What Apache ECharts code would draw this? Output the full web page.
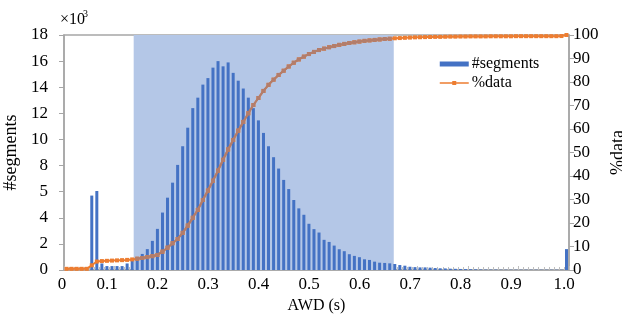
<!DOCTYPE html>
<html>
<head>
<meta charset="utf-8">
<script src="https://cdn.jsdelivr.net/npm/echarts@6/dist/echarts.min.js"></script>
<style>html,body{margin:0;padding:0;background:#fff;}#c{width:622px;height:320px;}</style>
</head>
<body>
<div id="c"></div>
<script>
// #segments per 0.01-wide AWD bin (×10³), bins 0.00–0.01 ... 0.99–1.00
const segments = [
  0, 0, 0, 0, 0, 5.7, 6.05, 0.5, 0.3, 0.3,
  0.3, 0.3, 0.5, 0.77, 1.0, 1.23, 1.6, 2.23, 3.15, 4.4,
  5.54, 6.69, 8.05, 9.48, 10.9, 12.4, 13.2, 14.2, 14.7, 15.5,
  16.0, 15.6, 15.9, 15.1, 14.5, 13.9, 13.2, 12.4, 11.46, 10.5,
  9.48, 8.64, 7.77, 6.9, 6.2, 5.36, 4.72, 4.23, 3.54, 3.13,
  2.87, 2.31, 2.15, 1.87, 1.59, 1.44, 1.21, 1.08, 0.98, 0.82,
  0.77, 0.64, 0.56, 0.54, 0.51, 0.46, 0.38, 0.33, 0.25, 0.22,
  0.2, 0.2, 0.18, 0.15, 0.13, 0.12, 0.1, 0.09, 0.08, 0.07,
  0.06, 0.05, 0.04, 0.03, 0.03, 0.03, 0.02, 0.02, 0.02, 0.02,
  0.02, 0.02, 0.02, 0.02, 0.02, 0.02, 0.02, 0.02, 0.02, 1.6
];
// cumulative %data at each bin
const pctData = [
  0.5, 0.5, 0.5, 0.5, 0.5, 2.0, 3.6, 3.8, 3.9, 4.0,
  4.1, 4.2, 4.3, 4.5, 4.8, 5.1, 5.5, 5.9, 6.4, 7.8,
  9.5, 11.4, 13.2, 15.8, 18.9, 22.2, 25.6, 29.8, 33.8, 38.0,
  42.3, 46.9, 51.3, 55.3, 59.3, 63.0, 66.7, 70.2, 73.2, 76.2,
  78.8, 81.0, 83.0, 84.8, 86.6, 88.2, 89.6, 90.8, 91.9, 92.8,
  93.6, 94.2, 94.8, 95.3, 95.8, 96.2, 96.6, 96.9, 97.2, 97.5,
  97.7, 97.9, 98.1, 98.3, 98.4, 98.6, 98.7, 98.8, 98.9, 99.0,
  99.05, 99.1, 99.15, 99.2, 99.2, 99.25, 99.3, 99.3, 99.35, 99.35,
  99.4, 99.4, 99.4, 99.4, 99.45, 99.45, 99.45, 99.45, 99.45, 99.5,
  99.5, 99.5, 99.5, 99.5, 99.5, 99.5, 99.5, 99.5, 99.55, 100
];
const binStart = 0, binWidth = 0.01;
const binCenters = segments.map((_, i) => +(binStart + (i + 0.5) * binWidth).toFixed(3));
const leftTickLabels = ['0', '2', '4', '5', '8', '10', '12', '14', '16', '18'];
const rightTickLabels = ['0', '10', '20', '30', '40', '50', '60', '70', '80', '90', '100'];
const xTickLabels = ['0', '0.1', '0.2', '0.3', '0.4', '0.5', '0.6', '0.7', '0.8', '0.9', '1.0'];
const highlightRange = [0.138, 0.653];

const FONT = 'Liberation Serif';
const ORANGE = '#ed7d31', BROWN = '#b27d6c';
const chart = echarts.init(document.getElementById('c'), null, {renderer: 'canvas'});
const inRange = x => x >= highlightRange[0] && x <= highlightRange[1];
const barData = binCenters.map((x, i) => [x, segments[i]]);
const lineData = binCenters.map((x, i) => [x, pctData[i]]);
// the part of the same curve that lies inside the shaded range (drawn on top, tinted)
const lineDataShaded = binCenters.map((x, i) => [x, inRange(x) ? pctData[i] : null]);

chart.setOption({
  animation: false,
  color: ['#b4c7e7', '#4472c4', ORANGE, BROWN],
  textStyle: {fontFamily: FONT, color: '#000'},
  grid: {left: 64, right: 53, top: 35, bottom: 50, outerBoundsMode: 'none', containLabel: false,
    show: true, borderColor: '#a6a6a6', borderWidth: 1.5, backgroundColor: 'transparent'},
  legend: {
    orient: 'vertical', left: 434, top: 51, itemWidth: 29, itemHeight: 5, itemGap: 3,
    textStyle: {fontFamily: FONT, fontSize: 16, color: '#000', lineHeight: 16, padding: [0, 0, 0, -2]},
    data: [
      {name: '#segments', icon: 'rect', itemStyle: {color: '#4472c4'}},
      {name: '%data', itemStyle: {color: ORANGE}, lineStyle: {color: ORANGE, width: 1.5}}
    ]
  },
  graphic: [
    {type: 'text', left: 60, top: 12, style: {text: '×10', fontFamily: FONT, fontSize: 16, fill: '#000'}},
    {type: 'text', left: 83, top: 9, style: {text: '3', fontFamily: FONT, fontSize: 10, fill: '#000'}}
  ],
  xAxis: {
    type: 'value', min: 0, max: 1, interval: 0.1,
    name: 'AWD (s)', nameLocation: 'middle', nameGap: 27,
    nameTextStyle: {fontFamily: FONT, fontSize: 16, color: '#000'},
    axisLine: {show: true, lineStyle: {color: '#a6a6a6', width: 1.5}},
    axisTick: {show: true, inside: true, length: 4, lineStyle: {color: '#bfbfbf'}},
    minorTick: {show: true, splitNumber: 10, length: 3, lineStyle: {color: '#bfbfbf'}},
    splitLine: {show: false},
    axisLabel: {
      margin: 6, fontFamily: FONT, fontSize: 17, color: '#000',
      formatter: v => {
        const t = xTickLabels[Math.round(v * 10)];
        if (v === 0) return '{z|' + t + '}';
        if (Math.round(v * 10) === 10) return '{e|' + t + '}';
        return '{n|' + t + '}';
      },
      rich: {
        z: {fontFamily: FONT, fontSize: 17, padding: [0, 4, 0, 0]},
        n: {fontFamily: FONT, fontSize: 17, padding: [0, 15, 0, 0]},
        e: {fontFamily: FONT, fontSize: 17, padding: [0, 10, 0, 0]}
      }
    }
  },
  yAxis: [
    {
      type: 'value', min: 0, max: 18, interval: 2,
      name: '#segments', nameLocation: 'middle', nameGap: 36, nameRotate: 90,
      nameTextStyle: {fontFamily: FONT, fontSize: 18, color: '#000'},
      axisLine: {show: true, lineStyle: {color: '#a6a6a6', width: 1.5}},
      axisTick: {show: true, length: 5, lineStyle: {color: '#a6a6a6'}},
      splitLine: {show: false},
      axisLabel: {margin: 16, fontFamily: FONT, fontSize: 17, color: '#000',
        formatter: v => leftTickLabels[Math.round(v / 2)]}
    },
    {
      type: 'value', min: 0, max: 100, interval: 10, position: 'right',
      name: '%data', nameLocation: 'middle', nameGap: 34, nameRotate: 90,
      nameTextStyle: {fontFamily: FONT, fontSize: 18, color: '#000'},
      axisLine: {show: true, lineStyle: {color: '#a6a6a6', width: 1.5}},
      axisTick: {show: true, length: 5, lineStyle: {color: '#a6a6a6'}},
      splitLine: {show: false},
      axisLabel: {margin: 4, fontFamily: FONT, fontSize: 17, color: '#000',
        formatter: v => rightTickLabels[Math.round(v / 10)]}
    }
  ],
  series: [
    {
      name: 'shade', type: 'line', data: [], z: 1, silent: true,
      markArea: {silent: true, itemStyle: {color: '#b4c7e7', opacity: 1},
        data: [[{xAxis: highlightRange[0], yAxis: 0}, {xAxis: highlightRange[1], yAxis: 18}]]}
    },
    {
      name: '#segments', type: 'bar', data: barData, barWidth: 3, z: 3,
      itemStyle: {color: '#4472c4'}
    },
    {
      name: '%data', type: 'line', yAxisIndex: 1, data: lineData, z: 4,
      symbol: 'rect', symbolSize: 4, showSymbol: true,
      lineStyle: {width: 2, color: ORANGE},
      itemStyle: {color: ORANGE}
    },
    {
      name: '%data (shaded part)', type: 'line', yAxisIndex: 1, data: lineDataShaded, z: 5,
      connectNulls: false, symbol: 'rect', symbolSize: 4, showSymbol: true,
      lineStyle: {width: 2, color: BROWN},
      itemStyle: {color: BROWN}
    }
  ]
});
</script>
</body>
</html>
